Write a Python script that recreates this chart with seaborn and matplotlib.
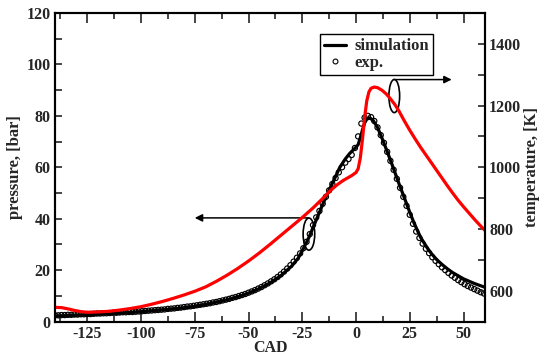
import matplotlib
matplotlib.use("Agg")
import matplotlib.pyplot as plt
from matplotlib.patches import Ellipse
from matplotlib.lines import Line2D
from matplotlib.ticker import MultipleLocator
import seaborn as sns

# simulated pressure (black line)
sim_cad = [-140, -130, -120, -110, -100, -90, -80, -75, -70, -65, -60, -55, -50, -45, -40, -35, -30, -27, -25, -22,
           -20, -18, -15, -12, -10, -7.5, -5, -3, -1, 0, 1, 2, 3, 4, 5, 6.5, 8, 10, 12, 14, 16, 18, 20, 22, 25, 27,
           30, 33, 35, 37.5, 40, 42.5, 45, 50, 55, 60]
sim_p = [2.1, 2.4, 2.8, 3.2, 3.8, 4.5, 5.3, 5.9, 6.6, 7.5, 8.4, 9.6, 11.0, 12.8, 15.0, 17.8, 21.5, 24.5, 27.5, 32.5,
         36.5, 40.5, 46.5, 52.0, 55.5, 60.0, 63.2, 65.3, 67.0, 67.8, 68.8, 71.5, 74.5, 77.2, 78.7, 79.2, 78.2, 75.5,
         71.5, 67.2, 62.8, 58.2, 53.6, 49.2, 42.5, 38.3, 32.8, 28.8, 26.5, 24.1, 22.2, 20.5, 19.0, 16.6, 14.8, 13.3]

# measured pressure (open circles), every 1.5 CAD from -140
exp_cad = [-140 + 1.5 * k for k in range(134)]
exp_p = [2.4, 2.4, 2.5, 2.5, 2.6, 2.6, 2.7, 2.7, 2.8, 2.8,
         2.9, 2.9, 3.0, 3.1, 3.1, 3.2, 3.2, 3.3, 3.4, 3.4,
         3.5, 3.6, 3.6, 3.7, 3.7, 3.8, 3.9, 4.0, 4.1, 4.2,
         4.3, 4.4, 4.5, 4.6, 4.7, 4.9, 5.0, 5.1, 5.3, 5.4,
         5.6, 5.8, 5.9, 6.1, 6.3, 6.5, 6.7, 6.9, 7.1, 7.4,
         7.6, 7.9, 8.2, 8.5, 8.8, 9.2, 9.5, 9.9, 10.3, 10.7,
         11.2, 11.7, 12.2, 12.8, 13.4, 14.1, 14.8, 15.6, 16.4, 17.3,
         18.3, 19.4, 20.6, 21.9, 23.3, 24.8, 26.5, 28.5, 31.0, 34.0,
         37.5, 40.5, 43.0, 45.8, 48.5, 51.0, 53.5, 55.8, 58.0, 60.0,
         61.8, 63.2, 64.8, 67.5, 72.0, 77.0, 79.3, 80.0, 79.5, 78.0,
         75.5, 72.5, 69.5, 66.0, 62.5, 59.0, 55.5, 52.0, 48.5, 45.0,
         41.5, 38.0, 35.0, 32.5, 30.3, 28.3, 26.6, 25.0, 23.6, 22.3,
         21.1, 20.0, 18.9, 17.9, 17.0, 16.1, 15.3, 14.5, 13.8, 13.2,
         12.6, 12.0, 11.4, 10.9]

# simulated temperature (red line, right axis)
temp_cad = [-140, -137, -134, -131, -128, -125, -120, -115, -110, -105, -100, -95, -90, -85, -80, -75, -70, -65,
            -60, -55, -50, -45, -40, -35, -30, -25, -20, -15, -12, -9, -6, -4, -2, 0, 1, 2, 3, 4, 5, 6, 7, 8.5, 10,
            12, 14, 16, 18, 20, 22.5, 25, 27.5, 30, 32.5, 35, 37.5, 40, 42.5, 45, 47.5, 50, 52.5, 55, 57.5, 60]
temp_k = [546, 545, 541, 536, 532, 530, 531, 533, 537, 542, 548, 556, 565, 575, 586, 598, 612, 630,
          650, 672, 696, 722, 750, 779, 808, 837, 868, 902, 924, 942, 957, 965, 973, 983, 995, 1030, 1090, 1160,
          1215, 1244, 1256, 1260, 1258, 1250, 1238, 1222, 1204, 1182, 1150, 1120, 1092, 1065, 1040, 1015, 990,
          965, 940, 916, 893, 872, 852, 832, 813, 795]

sns.set_theme(style="ticks")
plt.rcParams['font.family'] = ['Liberation Serif', 'DejaVu Serif']
plt.rcParams['font.weight'] = 'bold'
plt.rcParams['axes.labelweight'] = 'bold'
plt.rcParams['axes.unicode_minus'] = False

fig = plt.figure(figsize=(5.4, 3.56), dpi=100)
ax = fig.add_axes([55 / 540, 1 - 321.5 / 356, 430 / 540, 308.5 / 356])
ax2 = ax.twinx()

sns.lineplot(x=sim_cad, y=sim_p, ax=ax, color='black', lw=2.3, sort=False)
sns.scatterplot(x=exp_cad, y=exp_p, ax=ax, marker='o', s=14, facecolors='none',
                edgecolor='black', linewidth=0.85, zorder=3)
sns.lineplot(x=temp_cad, y=temp_k, ax=ax2, color='red', lw=2.3, sort=False)

ax.set_xlim(-140, 60)
ax.set_ylim(0, 120)
ax2.set_ylim(500, 1500)

ax.xaxis.set_major_locator(MultipleLocator(25))
ax.xaxis.set_minor_locator(MultipleLocator(12.5))
ax.yaxis.set_major_locator(MultipleLocator(20))
ax.yaxis.set_minor_locator(MultipleLocator(10))
ax2.set_yticks([600, 800, 1000, 1200, 1400])
ax2.yaxis.set_minor_locator(MultipleLocator(100))

ax.tick_params(which='both', direction='in', top=True, right=False, width=1.2, labelsize=11.5, pad=3)
ax.tick_params(which='major', length=7)
ax.tick_params(which='minor', length=4.5)
ax.tick_params(axis='y', which='both', length=5)
ax2.tick_params(which='both', direction='in', width=1.2, length=5, labelsize=11.5, pad=3)
for a in (ax, ax2):
    for s in a.spines.values():
        s.set_linewidth(1.5)
        s.set_color('black')
    for lab in a.get_xticklabels() + a.get_yticklabels():
        lab.set_fontweight('bold')

ax.set_xlabel('CAD', fontsize=11.5, labelpad=-1)
ax.set_ylabel('pressure, [bar]', fontsize=12, labelpad=3)
ax2.set_ylabel('temperature, [K]', fontsize=12, labelpad=2)

# ellipses and arrows marking which curve belongs to which axis
ax.add_patch(Ellipse((-21.9, 34.0), 5.4, 12.5, fill=False, ec='black', lw=1.2, zorder=4))
ax.annotate('', xy=(-75, 40.3), xytext=(-22.2, 40.3),
            arrowprops=dict(arrowstyle='-|>', color='black', lw=1.1, mutation_scale=11, shrinkA=0, shrinkB=0))
ax.add_patch(Ellipse((17.8, 87.7), 5.0, 12.9, fill=False, ec='black', lw=1.2, zorder=4))
ax.annotate('', xy=(44.5, 94.1), xytext=(17.8, 94.1),
            arrowprops=dict(arrowstyle='-|>', color='black', lw=1.1, mutation_scale=11, shrinkA=0, shrinkB=0))

handles = [Line2D([], [], color='black', lw=2.3),
           Line2D([], [], color='black', marker='o', ls='', markerfacecolor='none', markersize=3.5, mew=0.8)]
leg = ax2.legend(handles, ['simulation', 'exp.'], loc='upper left', bbox_to_anchor=(0.616, 0.931),
                 borderaxespad=0, fancybox=False, framealpha=1, edgecolor='black', handlelength=1.3,
                 handletextpad=0.5, labelspacing=0.05, borderpad=0.25, prop={'size': 12, 'weight': 'bold'})
leg.get_frame().set_linewidth(1.0)

fig.savefig('out.png', dpi=100)
